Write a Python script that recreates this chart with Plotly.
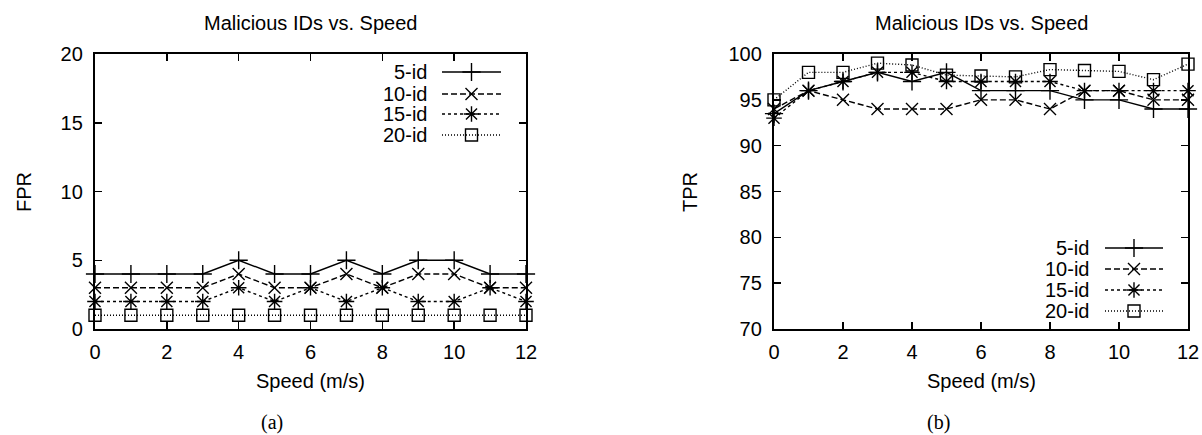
import plotly.graph_objects as go

# ---------------- data ----------------
speed = [0, 1, 2, 3, 4, 5, 6, 7, 8, 9, 10, 11, 12]
series_names = ["5-id", "10-id", "15-id", "20-id"]

fpr_5id = [4, 4, 4, 4, 5, 4, 4, 5, 4, 5, 5, 4, 4]
fpr_10id = [3, 3, 3, 3, 4, 3, 3, 4, 3, 4, 4, 3, 3]
fpr_15id = [2, 2, 2, 2, 3, 2, 3, 2, 3, 2, 2, 3, 2]
fpr_20id = [1, 1, 1, 1, 1, 1, 1, 1, 1, 1, 1, 1, 1]

tpr_5id = [93.5, 96, 97, 98, 97, 98, 96, 96, 96, 95, 95, 94, 94]
tpr_10id = [94, 96, 95, 94, 94, 94, 95, 95, 94, 96, 96, 95, 95]
tpr_15id = [93, 96, 97, 98, 98, 97, 97, 97, 97, 96, 96, 96, 96]
tpr_20id = [95, 98, 98, 99, 98.8, 97.7, 97.6, 97.5, 98.3, 98.2, 98.1, 97.2, 98.9]

x_ticks = [0, 2, 4, 6, 8, 10, 12]
fpr_ticks = [0, 5, 10, 15, 20]
tpr_ticks = [70, 75, 80, 85, 90, 95, 100]

chart_title = "Malicious IDs vs. Speed"
x_title = "Speed (m/s)"
captions = ["(a)", "(b)"]

# ---------------- style ----------------
W, H = 1202, 435
FONT = "Liberation Sans, Arial, Helvetica, sans-serif"
SERIF = "Liberation Serif, Times New Roman, serif"
FS = 20
LW = 1.4
dashes = ["solid", "6px,3px", "3px,3px", "1px,2px"]
symbols = ["cross-thin-open", "x-thin-open", "asterisk-open", "square-open"]
msizes = [13, 12, 13, 12]

# plot boxes in pixels: (left, right, top, bottom)
boxes = [(95, 526, 54, 329), (774, 1188, 54, 329)]


def dom_x(b):
    return [b[0] / W, b[1] / W]


def dom_y(b):
    return [1 - b[3] / H, 1 - b[2] / H]


fig = go.Figure()

# legend helper traces (drawn in a full-figure pixel overlay)
legend_rows = [[72, 94, 114, 135], [248, 269, 290, 311]]
legend_text_right = [429, 1091]
legend_line = [(442, 501), (1105, 1163)]
annotations = []
for p in range(2):
    for i, name in enumerate(series_names):
        yy = legend_rows[p][i]
        x0, x1 = legend_line[p]
        fig.add_trace(go.Scatter(
            x=[x0, x1], y=[yy, yy], xaxis="x3", yaxis="y3", mode="lines",
            showlegend=False, hoverinfo="skip", cliponaxis=False,
            line=dict(color="black", width=LW, dash=dashes[i]),
        ))
        fig.add_trace(go.Scatter(
            x=[(x0 + x1) / 2], y=[yy], xaxis="x3", yaxis="y3", mode="markers",
            showlegend=False, hoverinfo="skip", cliponaxis=False,
            marker=dict(symbol=symbols[i], size=msizes[i], color="black",
                        line=dict(color="black", width=1.4)),
        ))
        annotations.append(dict(
            x=legend_text_right[p] / W, y=1 - yy / H, xref="paper", yref="paper",
            text=name, showarrow=False, xanchor="right", yanchor="middle",
            font=dict(family=FONT, size=FS, color="black"),
        ))

panels = [
    ([fpr_5id, fpr_10id, fpr_15id, fpr_20id], "x", "y"),
    ([tpr_5id, tpr_10id, tpr_15id, tpr_20id], "x2", "y2"),
]
for vals, xa, ya in panels:
    for i, v in enumerate(vals):
        fig.add_trace(go.Scatter(
            x=speed, y=v, xaxis=xa, yaxis=ya, mode="lines+markers",
            name=series_names[i], showlegend=False, cliponaxis=False,
            line=dict(color="black", width=LW, dash=dashes[i]),
            marker=dict(symbol=symbols[i], size=msizes[i], color="black",
                        line=dict(color="black", width=1.4)),
        ))

# titles, axis titles, captions
for p, b in enumerate(boxes):
    cx = (b[0] + b[1]) / 2
    annotations.append(dict(x=cx / W, y=1 - 23 / H, xref="paper", yref="paper",
                            text=chart_title, showarrow=False, xanchor="center",
                            yanchor="middle", font=dict(family=FONT, size=FS, color="black")))
    annotations.append(dict(x=cx / W, y=1 - 381 / H, xref="paper", yref="paper",
                            text=x_title, showarrow=False, xanchor="center",
                            yanchor="middle", font=dict(family=FONT, size=FS, color="black")))
caption_x = [272, 938]
for p in range(2):
    annotations.append(dict(x=caption_x[p] / W, y=1 - 422 / H, xref="paper", yref="paper",
                            text=captions[p], showarrow=False, xanchor="center",
                            yanchor="middle", font=dict(family=SERIF, size=20, color="black")))
ylabels = ["FPR", "TPR"]
ylabel_x = [24, 690]
for p in range(2):
    annotations.append(dict(x=ylabel_x[p] / W, y=1 - 192 / H, xref="paper", yref="paper",
                            text=ylabels[p], showarrow=False, textangle=-90,
                            xanchor="center", yanchor="middle",
                            font=dict(family=FONT, size=FS, color="black")))

axis_common = dict(showgrid=False, zeroline=False, showline=True, linecolor="black",
                   linewidth=2.2, mirror="ticks", ticks="inside", ticklen=7,
                   tickwidth=1.5, tickcolor="black", automargin=False,
                   tickfont=dict(family=FONT, size=FS, color="black"))
hidden_axis = dict(visible=False, showgrid=False, zeroline=False, showline=False,
                   showticklabels=False, ticks="", automargin=False, fixedrange=True)

fig.update_layout(
    width=W, height=H, autosize=False,
    margin=dict(l=0, r=0, t=0, b=0, pad=0, autoexpand=False),
    paper_bgcolor="white", plot_bgcolor="rgba(0,0,0,0)",
    showlegend=False,
    annotations=annotations,
    xaxis=dict(domain=dom_x(boxes[0]), anchor="y", range=[0, 12],
               tickvals=x_ticks, ticklabelstandoff=4, **axis_common),
    yaxis=dict(domain=dom_y(boxes[0]), anchor="x", range=[0, 20],
               tickvals=fpr_ticks, ticklabelstandoff=6, **axis_common),
    xaxis2=dict(domain=dom_x(boxes[1]), anchor="y2", range=[0, 12],
                tickvals=x_ticks, ticklabelstandoff=4, **axis_common),
    yaxis2=dict(domain=dom_y(boxes[1]), anchor="x2", range=[70, 100],
                tickvals=tpr_ticks, ticklabelstandoff=6, **axis_common),
    xaxis3=dict(domain=[0, 1], anchor="y3", range=[0, W], **hidden_axis),
    yaxis3=dict(domain=[0, 1], anchor="x3", range=[H, 0], **hidden_axis),
)

fig.write_html(
    "out.html",
    config={"displayModeBar": False, "staticPlot": True},
    post_script="document.body.style.margin='0px';document.body.style.overflow='hidden';",
)
